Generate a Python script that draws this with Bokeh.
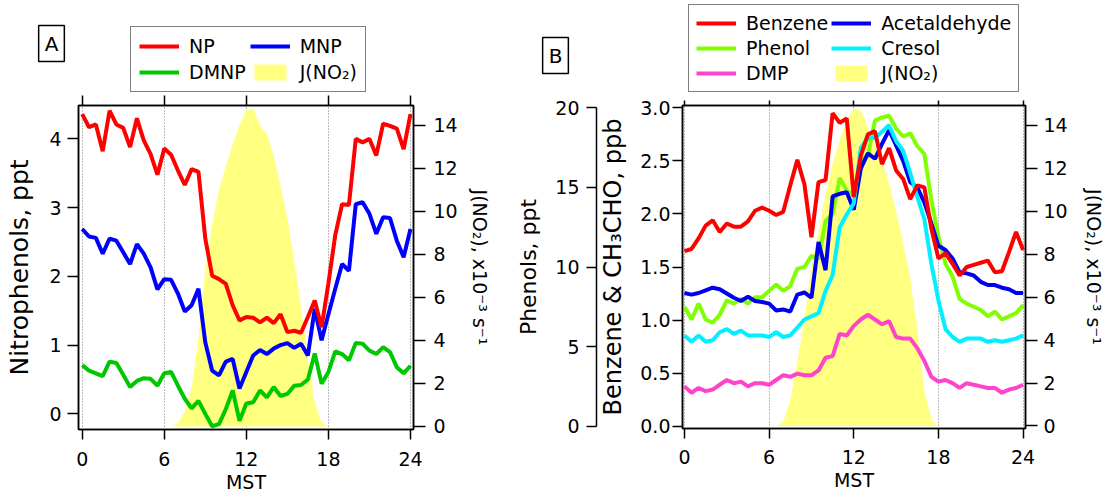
from bokeh.plotting import figure
from bokeh.models import (Range1d, LinearAxis, Legend, LegendItem, Label, FixedTicker,
                          CustomJSTickFormatter, PrintfTickFormatter)
from bokeh.layouts import row, column
from bokeh.embed import file_html
from bokeh.resources import INLINE

FONT = "DejaVu Sans"

# ---------------- data ----------------
HOURS = [0, 0.5, 1, 1.5, 2, 2.5, 3, 3.5, 4, 4.5, 5, 5.5, 6, 6.5, 7, 7.5, 8, 8.5,
         9, 9.5, 10, 10.5, 11, 11.5, 12, 12.5, 13, 13.5, 14, 14.5, 15, 15.5, 16,
         16.5, 17, 17.5, 18, 18.5, 19, 19.5, 20, 20.5, 21, 21.5, 22, 22.5, 23,
         23.5, 24]
X_TICKS = [0, 6, 12, 18, 24]

# Panel A (ppt)
NP = [4.36, 4.17, 4.21, 3.82, 4.41, 4.21, 4.16, 3.88, 4.30, 3.98, 3.78, 3.48,
      3.86, 3.77, 3.54, 3.33, 3.56, 3.52, 2.55, 2.01, 1.96, 1.89, 1.58, 1.36,
      1.41, 1.40, 1.33, 1.40, 1.32, 1.45, 1.19, 1.21, 1.18, 1.41, 1.65, 1.26,
      1.90, 2.60, 3.05, 3.04, 4.00, 3.95, 4.00, 3.76, 4.22, 4.19, 4.15, 3.85,
      4.36]
MNP = [2.69, 2.58, 2.56, 2.33, 2.55, 2.52, 2.35, 2.18, 2.47, 2.33, 2.13, 1.81,
       1.96, 1.95, 1.75, 1.49, 1.58, 1.82, 1.04, 0.63, 0.56, 0.76, 0.80, 0.37,
       0.61, 0.85, 0.93, 0.87, 0.95, 1.00, 1.03, 0.96, 1.02, 0.85, 1.53, 1.07,
       1.45, 1.82, 2.18, 2.08, 3.05, 3.08, 2.91, 2.62, 2.86, 2.85, 2.52, 2.28,
       2.69]
DMNP = [0.71, 0.63, 0.59, 0.55, 0.76, 0.74, 0.57, 0.39, 0.48, 0.52, 0.51, 0.41,
        0.59, 0.61, 0.41, 0.22, 0.08, 0.19, 0.00, -0.18, -0.15, 0.07, 0.34,
        -0.10, 0.15, 0.17, 0.34, 0.24, 0.39, 0.26, 0.29, 0.41, 0.42, 0.50, 0.88,
        0.44, 0.61, 0.91, 0.87, 0.78, 1.03, 1.02, 0.92, 0.87, 0.97, 0.90, 0.68,
        0.59, 0.70]
JNO2_A = [0, 0, 0, 0, 0, 0, 0, 0, 0, 0, 0, 0, 0, 0,
          0.15, 0.7, 1.8, 4.1, 7.3, 9.4, 11.0, 12.1, 13.1, 14.0, 14.7, 14.8,
          14.0, 13.6, 12.6, 11.2, 9.7, 7.7, 5.5, 3.2, 1.1, 0.2, 0,
          0, 0, 0, 0, 0, 0, 0, 0, 0, 0, 0, 0]

# Panel B (Benzene, Acetaldehyde in ppb; phenols in ppt)
BENZENE = [1.65, 1.67, 1.77, 1.89, 1.94, 1.83, 1.91, 1.88, 1.88, 1.93, 2.03,
           2.06, 2.03, 1.99, 2.02, 2.27, 2.51, 2.28, 1.78, 2.30, 2.32, 2.95,
           2.86, 2.90, 2.16, 2.55, 2.75, 2.78, 2.47, 2.62, 2.41, 2.33, 2.14,
           2.27, 2.25, 1.86, 1.58, 1.63, 1.53, 1.42, 1.50, 1.52, 1.54, 1.56,
           1.45, 1.46, 1.64, 1.83, 1.66]
ACETALDEHYDE = [1.255, 1.24, 1.255, 1.28, 1.305, 1.29, 1.25, 1.21, 1.18, 1.22,
                1.18, 1.17, 1.155, 1.09, 1.10, 1.08, 1.24, 1.26, 1.21, 1.735,
                1.47, 2.165, 2.19, 2.205, 2.04, 2.43, 2.57, 2.52, 2.66, 2.79,
                2.645, 2.50, 2.30, 2.25, 2.11, 1.91, 1.70, 1.66, 1.58, 1.45,
                1.44, 1.42, 1.36, 1.33, 1.33, 1.305, 1.29, 1.255, 1.255]
PHENOL = [7.5, 6.7, 7.7, 6.7, 6.5, 7.0, 7.9, 7.7, 8.0, 7.7,
          8.1, 8.1, 8.5, 8.9, 8.5, 8.8, 9.9, 10.0, 10.7, 10.5,
          12.9, 13.3, 15.6, 14.8, 14.5, 16.7, 17.0, 19.2, 19.4, 19.5,
          18.7, 18.2, 18.4, 17.6, 17.1, 14.2, 11.9, 10.2, 9.4, 8.0,
          7.7, 7.5, 7.3, 6.9, 7.2, 6.7, 6.9, 7.1, 7.6]
CRESOL = [5.7, 5.3, 5.7, 5.3, 5.4, 5.9, 6.1, 5.8, 6.0, 5.7,
          5.7, 5.7, 5.6, 5.9, 5.6, 5.7, 6.2, 6.7, 6.9, 7.1,
          8.5, 9.5, 12.5, 13.3, 14.0, 17.5, 18.1, 18.1, 18.5, 18.9,
          17.9, 17.3, 15.9, 14.4, 13.0, 10.2, 7.9, 6.1, 5.6, 5.3,
          5.5, 5.5, 5.5, 5.3, 5.4, 5.3, 5.4, 5.5, 5.7]
DMP = [2.5, 2.1, 2.4, 2.2, 2.3, 2.6, 2.9, 2.7, 2.8, 2.5,
       2.7, 2.7, 2.6, 2.9, 3.2, 3.1, 3.3, 3.2, 3.2, 3.5,
       4.3, 4.4, 5.8, 5.7, 6.3, 6.7, 7.0, 6.7, 6.4, 6.6,
       5.6, 5.5, 5.5, 4.9, 4.1, 3.1, 2.8, 2.9, 2.7, 2.4,
       2.7, 2.6, 2.5, 2.4, 2.4, 2.1, 2.3, 2.4, 2.6]
JNO2_B = [0, 0, 0, 0, 0, 0, 0, 0, 0, 0, 0, 0, 0, 0,
          0.2, 1.2, 3.0, 5.0, 7.4, 9.0, 10.8, 12.2, 13.3, 14.2, 14.8, 14.7,
          13.9, 13.0, 12.3, 11.3, 10.0, 8.5, 6.9, 4.5, 1.6, 0.3, 0,
          0, 0, 0, 0, 0, 0, 0, 0, 0, 0, 0, 0]

YELLOW = "#FFFF80"
C_NP, C_MNP, C_DMNP = "#FF0000", "#0000FF", "#00C800"
C_BENZ, C_ACET, C_PHEN, C_CRES, C_DMP = "#FF0000", "#0000F0", "#80FF00", "#00F0FF", "#FF44CC"


def style_axis(ax, tick_out=11, standoff=6, label_size="19px", label_standoff=8):
    ax.major_label_text_font = FONT
    ax.major_label_text_font_size = "19px"
    ax.major_label_text_color = "black"
    ax.axis_label_text_font = FONT
    ax.axis_label_text_font_size = label_size
    ax.axis_label_text_font_style = "normal"
    ax.axis_label_text_color = "black"
    ax.axis_label_standoff = label_standoff
    ax.major_label_standoff = standoff
    ax.major_tick_out = tick_out
    ax.major_tick_in = 0
    ax.minor_tick_line_color = None
    ax.axis_line_color = "black"
    ax.axis_line_width = 1.5
    ax.major_tick_line_width = 1.5
    ax.major_tick_line_color = "black"


def base_fig(fw, fh, bl, br, bt, bb, xr, yr, top_tick, xlab_standoff):
    p = figure(frame_width=fw, frame_height=fh, min_border_left=bl,
               min_border_right=br, min_border_top=bt, min_border_bottom=bb,
               x_range=Range1d(*xr), y_range=Range1d(*yr),
               output_backend="svg", toolbar_location=None)
    p.outline_line_color = "black"
    p.outline_line_width = 1.5
    p.background_fill_color = "white"
    p.border_fill_color = "white"
    p.ygrid.visible = False
    p.xgrid.ticker = FixedTicker(ticks=X_TICKS)
    p.xgrid.grid_line_color = "#777777"
    p.xgrid.grid_line_dash = "1 2"
    p.xgrid.grid_line_width = 1
    xa = p.xaxis[0]
    xa.ticker = FixedTicker(ticks=X_TICKS)
    xa.axis_label = "MST"
    style_axis(xa, tick_out=10, standoff=xlab_standoff, label_standoff=2)
    top = LinearAxis(ticker=FixedTicker(ticks=X_TICKS),
                     formatter=CustomJSTickFormatter(code="return ''"))
    style_axis(top, tick_out=top_tick, standoff=0)
    top.major_label_text_font_size = "0px"
    p.add_layout(top, "above")
    return p


def make_legend(items, loc, spacing=4, padding=8):
    leg = Legend(items=items, location=loc, orientation="horizontal", ncols=2)
    leg.label_text_font = FONT
    leg.label_text_font_size = "19px"
    leg.label_text_color = "black"
    leg.glyph_width = 40
    leg.glyph_height = 20
    leg.label_height = 22
    leg.label_standoff = 10
    leg.spacing = spacing
    leg.padding = padding
    leg.margin = 0
    leg.border_line_color = "black"
    leg.border_line_width = 1.5
    leg.background_fill_color = "white"
    leg.background_fill_alpha = 1.0
    return leg


def panel_label(text, x, y):
    return Label(x=x, y=y, x_units="screen", y_units="screen", text=text,
                 text_align="center", text_baseline="middle", text_font=FONT,
                 text_font_size="20px", text_color="black",
                 border_line_color="black", border_line_width=1.5,
                 background_fill_color="white", padding=6)


# ---------------- Panel A ----------------
pA = base_fig(335, 324, 78, 93, 10, 68, (-0.27, 24.22), (-0.227, 4.486), 10, 12)
pA.extra_y_ranges = {"j": Range1d(-0.14, 14.93)}

ya = pA.yaxis[0]
ya.ticker = FixedTicker(ticks=[0, 1, 2, 3, 4])
ya.axis_label = "Nitrophenols, ppt"
style_axis(ya, tick_out=11, standoff=6, label_size="25px", label_standoff=12)

ra = LinearAxis(y_range_name="j", ticker=FixedTicker(ticks=[0, 2, 4, 6, 8, 10, 12, 14]),
                axis_label="J(NO₂), x10⁻³ s⁻¹")
style_axis(ra, tick_out=12, standoff=8, label_size="19px", label_standoff=8)
pA.add_layout(ra, "right")

pA.varea(x=HOURS, y1=0, y2=JNO2_A, y_range_name="j", fill_color=YELLOW)
pA.line(HOURS, DMNP, line_color=C_DMNP, line_width=4)
pA.line(HOURS, MNP, line_color=C_MNP, line_width=4)
pA.line(HOURS, NP, line_color=C_NP, line_width=4)

# ---------------- Panel B ----------------
pB = base_fig(343, 323, 176, 92, 12, 67, (-0.14, 24.17), (-0.022, 3.022), 5, 11)
pB.extra_y_ranges = {"phen": Range1d(-0.147, 20.147), "j": Range1d(-0.12, 14.93)}

yb = pB.yaxis[0]
yb.ticker = FixedTicker(ticks=[0, 0.5, 1.0, 1.5, 2.0, 2.5, 3.0])
yb.formatter = PrintfTickFormatter(format="%.1f")
yb.axis_label = "Benzene & CH₃CHO, ppb"
style_axis(yb, tick_out=10, standoff=2, label_size="24px", label_standoff=10)

phax = LinearAxis(y_range_name="phen", ticker=FixedTicker(ticks=[0, 5, 10, 15, 20]),
                  bounds=(0, 20), axis_label="Phenols, ppt")
style_axis(phax, tick_out=10, standoff=7, label_size="22px", label_standoff=11)
pB.add_layout(phax, "left")

rb = LinearAxis(y_range_name="j", ticker=FixedTicker(ticks=[0, 2, 4, 6, 8, 10, 12, 14]),
                axis_label="J(NO₂), x10⁻³ s⁻¹")
style_axis(rb, tick_out=12, standoff=6, label_size="19px", label_standoff=12)
pB.add_layout(rb, "right")

pB.varea(x=HOURS, y1=0, y2=JNO2_B, y_range_name="j", fill_color=YELLOW)
pB.line(HOURS, DMP, y_range_name="phen", line_color=C_DMP, line_width=4)
pB.line(HOURS, PHENOL, y_range_name="phen", line_color=C_PHEN, line_width=4)
pB.line(HOURS, ACETALDEHYDE, line_color=C_ACET, line_width=4)
pB.line(HOURS, CRESOL, y_range_name="phen", line_color=C_CRES, line_width=4)
pB.line(HOURS, BENZENE, line_color=C_BENZ, line_width=4)

# ---------------- Header (legends and panel tags) ----------------
HW, HH = 1117, 93
hd = figure(width=HW, height=HH, x_range=Range1d(0, HW), y_range=Range1d(0, HH),
            min_border=0, min_border_left=0, min_border_right=0,
            min_border_top=0, min_border_bottom=0,
            x_axis_type=None, y_axis_type=None,
            output_backend="svg", toolbar_location=None)
hd.outline_line_color = None
hd.grid.visible = False
hd.background_fill_color = "white"
hd.border_fill_color = "white"
# legend proxies: same series, drawn on an off-screen range so only the legend shows them
hd.extra_x_ranges = {"off": Range1d(1000, 1100)}
kNP = hd.line(HOURS, NP, x_range_name="off", line_color=C_NP, line_width=4)
kMNP = hd.line(HOURS, MNP, x_range_name="off", line_color=C_MNP, line_width=4)
kDMNP = hd.line(HOURS, DMNP, x_range_name="off", line_color=C_DMNP, line_width=4)
kJA = hd.varea(x=HOURS, y1=0, y2=JNO2_A, x_range_name="off", fill_color=YELLOW)
kB = hd.line(HOURS, BENZENE, x_range_name="off", line_color=C_BENZ, line_width=4)
kA = hd.line(HOURS, ACETALDEHYDE, x_range_name="off", line_color=C_ACET, line_width=4)
kP = hd.line(HOURS, PHENOL, x_range_name="off", line_color=C_PHEN, line_width=4)
kC = hd.line(HOURS, CRESOL, x_range_name="off", line_color=C_CRES, line_width=4)
kD = hd.line(HOURS, DMP, x_range_name="off", line_color=C_DMP, line_width=4)
kJB = hd.varea(x=HOURS, y1=0, y2=JNO2_B, x_range_name="off", fill_color=YELLOW)

hd.add_layout(make_legend([LegendItem(label="NP", renderers=[kNP]),
                           LegendItem(label="MNP", renderers=[kMNP]),
                           LegendItem(label="DMNP", renderers=[kDMNP]),
                           LegendItem(label="J(NO₂)", renderers=[kJA])], (130, 1)))
hd.add_layout(make_legend([LegendItem(label="Benzene", renderers=[kB]),
                           LegendItem(label="Acetaldehyde", renderers=[kA]),
                           LegendItem(label="Phenol", renderers=[kP]),
                           LegendItem(label="Cresol", renderers=[kC]),
                           LegendItem(label="DMP", renderers=[kD]),
                           LegendItem(label="J(NO₂)", renderers=[kJB])], (688, 1),
                          spacing=3, padding=7))
hd.add_layout(panel_label("A", 51, 50))
hd.add_layout(panel_label("B", 555, 38))

layout = column(hd, row(pA, pB))
open("out.html", "w").write(file_html(layout, INLINE))
